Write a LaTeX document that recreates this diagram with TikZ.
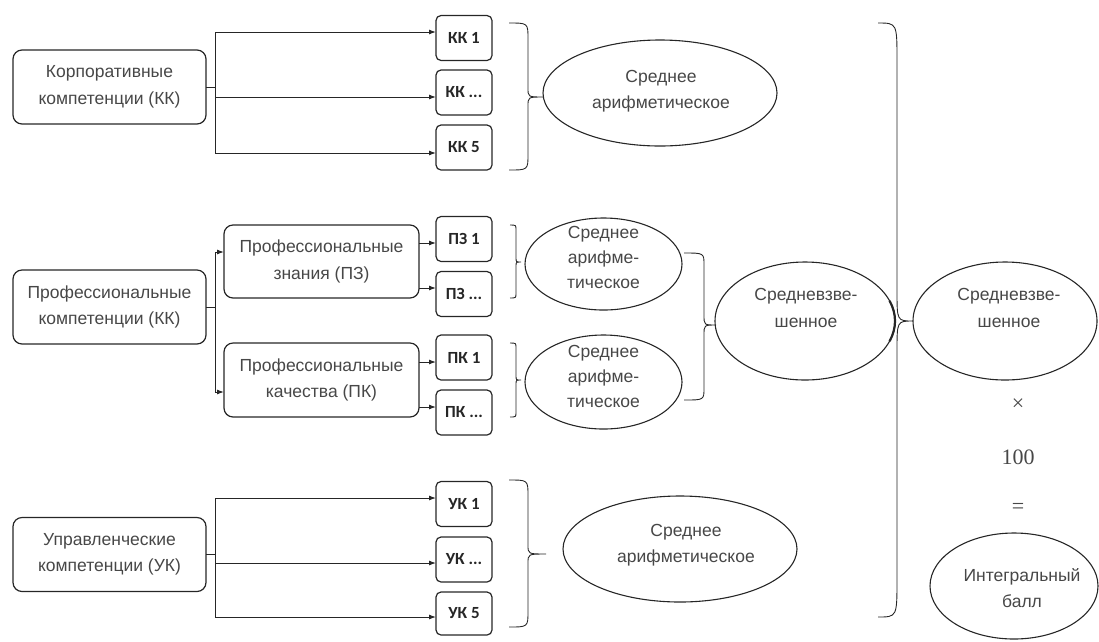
\documentclass[tikz,border=0pt]{standalone}
\usepackage{fontspec}
\setmainfont{Liberation Sans}
\newfontfamily\lblfont{Carlito}
\newfontfamily\numfont{Liberation Serif}
\usetikzlibrary{shapes.geometric,arrows.meta,calc}
\definecolor{txtgray}{HTML}{474747}
\definecolor{linegray}{HTML}{262626}
\newcommand\mybrace[8]{%
  \draw[brc] (#1,#4) .. controls (#2,#4) .. (#2,#4+#7) -- (#2,#5-#8)
    .. controls (#2,#5) .. (#3,#5) .. controls (#2,#5) .. (#2,#5+#8)
    -- (#2,#6-#7) .. controls (#2,#6) .. (#1,#6);}
\begin{document}
\begin{tikzpicture}[x=1pt,y=-1pt,
  every node/.style={inner sep=0pt, outer sep=0pt},
  txt/.style={align=center, text=txtgray, font=\fontsize{17.5}{26.5}\selectfont},
  bigbox/.style={txt, draw=linegray, line width=1.2pt, rounded corners=9pt,
    minimum width=193, minimum height=74},
  subbox/.style={bigbox, minimum width=195, minimum height=73},
  smallbox/.style={draw=linegray, line width=1.2pt, rounded corners=5pt,
    minimum width=56, minimum height=45, text=black!85,
    font=\lblfont\bfseries\fontsize{17}{19}\selectfont},
  ell/.style={ellipse, draw=linegray, line width=1.1pt},
  ln/.style={draw=linegray, line width=1pt},
  arr/.style={ln, -{Latex[length=7,width=5]}},
  brc/.style={draw=linegray, line width=0.9pt},
  sym/.style={text=txtgray, font=\numfont\fontsize{22}{24}\selectfont}
]
\useasboundingbox (0,0) rectangle (1099,641);

% left boxes
\node[bigbox] (kk) at (109.5,87) {Корпоративные\\компетенции (КК)};
\node[bigbox] (prof) at (109.5,307) {Профессиональные\\компетенции (КК)};
\node[bigbox] (uk) at (109.5,554.5) {Управленческие\\компетенции (УК)};

% sub boxes
\node[subbox] (pz) at (321.5,261.5) {Профессиональные\\знания (ПЗ)};
\node[subbox, minimum height=74] (pk) at (321.5,380) {Профессиональные\\качества (ПК)};

% small boxes
\node[smallbox] (kk1) at (464,38) {КК 1};
\node[smallbox] (kk2) at (464,92.5) {КК ...};
\node[smallbox] (kk3) at (464,147.5) {КК 5};
\node[smallbox] (pz1) at (464,239) {ПЗ 1};
\node[smallbox] (pz2) at (464,294) {ПЗ ...};
\node[smallbox] (pk1) at (464,357.5) {ПК 1};
\node[smallbox] (pk2) at (464,412.5) {ПК ...};
\node[smallbox] (uk1) at (464,504) {УК 1};
\node[smallbox] (uk2) at (464,559.5) {УК ...};
\node[smallbox, minimum height=43] (uk3) at (464,613.5) {УК 5};

% connectors KK
\coordinate (kt1) at (215,32);
\coordinate (kt2) at (215,97);
\coordinate (kt3) at (215,153);
\draw[ln] (kk.east) -- (kk.east -| kt1);
\draw[ln] (kt1) -- (kt3);
\draw[arr] (kt1) -- (kt1 -| kk1.west);
\draw[arr] (kt2) -- (kt2 -| kk2.west);
\draw[arr] (kt3) -- (kt3 -| kk3.west);

% connectors Prof
\coordinate (pt1) at (215,252);
\coordinate (pt2) at (215,392);
\draw[ln] (prof.east) -- (prof.east -| pt1);
\draw[ln] (pt1) -- (pt2);
\draw[arr] (pt1) -- (pt1 -| pz.west);
\draw[arr] (pt2) -- (pt2 -| pk.west);
\coordinate (pza) at ([yshift=18.5]pz.east);
\coordinate (pzb) at ([yshift=-26.5]pz.east);
\coordinate (pka) at ([yshift=18]pk.east);
\coordinate (pkb) at ([yshift=-27]pk.east);
\draw[arr] (pza) -- (pza -| pz1.west);
\draw[arr] (pzb) -- (pzb -| pz2.west);
\draw[arr] (pka) -- (pka -| pk1.west);
\draw[arr] (pkb) -- (pkb -| pk2.west);

% connectors UK
\coordinate (ut1) at (215,498);
\coordinate (ut2) at (215,563);
\coordinate (ut3) at (215,617);
\draw[ln] (uk.east) -- (uk.east -| ut1);
\draw[ln] (ut1) -- (ut3);
\draw[arr] (ut1) -- (ut1 -| uk1.west);
\draw[arr] (ut2) -- (ut2 -| uk2.west);
\draw[arr] (ut3) -- (ut3 -| uk3.west);

% braces
\mybrace{509}{528}{543}{23}{97}{170}{16}{9}
\mybrace{509}{528}{546}{480}{554}{627}{16}{9}
\mybrace{510}{516}{521}{225}{262}{298}{5}{4}
\mybrace{510}{516}{521}{343}{380}{417}{5}{4}
\mybrace{684}{704}{716}{253}{325}{400}{12}{10}
\mybrace{878}{897}{913}{23}{321}{617}{38}{30}

% ellipses
\node[ell, minimum width=234, minimum height=106] (ekk) at (660,93) {};
\node[txt] (ekkt) at (661,91) {Среднее\\арифметическое};
\node[ell, minimum width=157, minimum height=92] (epz) at (603.5,264) {};
\node[txt, font=\fontsize{17.5}{25}\selectfont] (epzt) at (603.5,257) {Среднее\\арифме-\\тическое};
\node[ell, minimum width=157, minimum height=94] (epk) at (603.5,382) {};
\node[txt, font=\fontsize{17.5}{25}\selectfont] (epkt) at (603.5,376) {Среднее\\арифме-\\тическое};
\node[ell, minimum width=180, minimum height=118] (emid) at (805,321) {};
\node[txt] (emidt) at (806,308) {Средневзве-\\шенное};
\draw[draw=linegray, line width=2.2pt] (emid.center) ++(-20:90 and 59)
  arc[start angle=-20, end angle=20, x radius=90, y radius=59];
\node[ell, minimum width=184, minimum height=118] (erig) at (1005,321) {};
\node[txt] (erigt) at (1009,308) {Средневзве-\\шенное};
\node[ell, minimum width=168, minimum height=106] (eint) at (1014,586) {};
\node[txt] (eintt) at (1022,588) {Интегральный\\балл};
\node[ell, minimum width=234, minimum height=106] (euk) at (680,549) {};
\node[txt] (eukt) at (686,545) {Среднее\\арифметическое};

% formula
\node[sym] (times) at (1018,405) {×};
\node[sym] (hund) at (1018,457) {100};
\node[sym] (eq) at (1018,508) {=};
\end{tikzpicture}
\end{document}
